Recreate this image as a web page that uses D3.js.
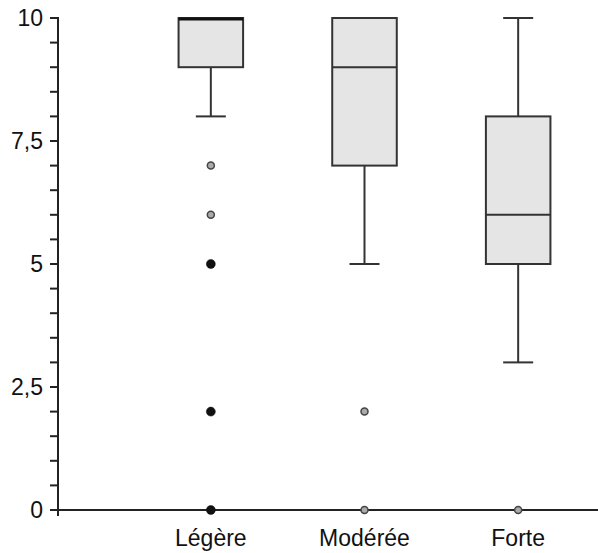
<!DOCTYPE html>
<html>
<head>
<meta charset="utf-8">
<script src="https://cdn.jsdelivr.net/npm/d3@7"></script>
<style>
  body { margin: 0; background: #fff; }
  text { font-family: "Liberation Sans", Arial, sans-serif; fill: #111; }
</style>
</head>
<body>
<div id="chart"></div>
<script>
var width = 598
var height = 553

// data
var categories = ["Légère", "Modérée", "Forte"]
var q1 = [9, 7, 5]
var median = [10, 9, 6]
var q3 = [10, 10, 8]
var whiskerLow = [8, 5, 3]
var whiskerHigh = [10, 10, 10]
// outliers: [category index, value, extreme?]
var outliers = [
  [0, 7, false], [0, 6, false], [0, 5, true], [0, 2, true], [0, 0, true],
  [1, 2, false], [1, 0, false],
  [2, 0, false]
]
var yTicks = [0, 2.5, 5, 7.5, 10]
var yTickLabels = ["0", "2,5", "5", "7,5", "10"]

var svg = d3.select("#chart").append("svg")
  .attr("width", width)
  .attr("height", height)

var y = d3.scaleLinear().domain([0, 10]).range([510, 18])
var x = d3.scaleBand().domain(categories).range([134, 595]).paddingInner(0.58).paddingOuter(0.29)

var axisX = 58

// minor ticks every 0.5
var minor = d3.range(0, 10.01, 0.5)
svg.append("g").selectAll("line")
  .data(minor)
  .enter().append("line")
  .attr("x1", axisX - 8).attr("x2", axisX)
  .attr("y1", function(d) { return y(d) }).attr("y2", function(d) { return y(d) })
  .attr("stroke", "#222").attr("stroke-width", 2)

svg.append("g").selectAll("text")
  .data(yTicks)
  .enter().append("text")
  .attr("x", 43)
  .attr("y", function(d) { return y(d) })
  .attr("dy", "0.36em")
  .attr("text-anchor", "end")
  .style("font-size", "23px")
  .text(function(d, i) { return yTickLabels[i] })

// axes lines
svg.append("line")
  .attr("x1", axisX).attr("x2", axisX)
  .attr("y1", y(10) - 1).attr("y2", y(0) + 6)
  .attr("stroke", "#222").attr("stroke-width", 2)
svg.append("line")
  .attr("x1", axisX - 1).attr("x2", width)
  .attr("y1", y(0)).attr("y2", y(0))
  .attr("stroke", "#222").attr("stroke-width", 2)

// category labels
svg.append("g").selectAll("text")
  .data(categories)
  .enter().append("text")
  .attr("x", function(d) { return x(d) + x.bandwidth() / 2 })
  .attr("y", 546)
  .attr("text-anchor", "middle")
  .style("font-size", "23px")
  .text(function(d) { return d })

var boxes = svg.append("g").selectAll("g")
  .data(categories)
  .enter().append("g")

var cx = function(d) { return x(d) + x.bandwidth() / 2 }
var capW = 30

// whiskers
boxes.append("line")
  .attr("x1", cx).attr("x2", cx)
  .attr("y1", function(d, i) { return y(whiskerLow[i]) })
  .attr("y2", function(d, i) { return y(q1[i]) })
  .attr("stroke", "#333").attr("stroke-width", 2)
boxes.append("line")
  .attr("x1", cx).attr("x2", cx)
  .attr("y1", function(d, i) { return y(whiskerHigh[i]) })
  .attr("y2", function(d, i) { return y(q3[i]) })
  .attr("stroke", "#333").attr("stroke-width", 2)
boxes.append("line")
  .attr("x1", function(d) { return cx(d) - capW / 2 })
  .attr("x2", function(d) { return cx(d) + capW / 2 })
  .attr("y1", function(d, i) { return y(whiskerLow[i]) })
  .attr("y2", function(d, i) { return y(whiskerLow[i]) })
  .attr("stroke", "#333").attr("stroke-width", 2)
boxes.append("line")
  .attr("x1", function(d) { return cx(d) - capW / 2 })
  .attr("x2", function(d) { return cx(d) + capW / 2 })
  .attr("y1", function(d, i) { return y(whiskerHigh[i]) })
  .attr("y2", function(d, i) { return y(whiskerHigh[i]) })
  .attr("stroke", "#333").attr("stroke-width", 2)

// box
boxes.append("rect")
  .attr("x", function(d) { return x(d) })
  .attr("width", x.bandwidth())
  .attr("y", function(d, i) { return y(q3[i]) })
  .attr("height", function(d, i) { return y(q1[i]) - y(q3[i]) })
  .attr("fill", "#e5e5e5")
  .attr("stroke", "#333").attr("stroke-width", 2)

// median
boxes.append("line")
  .attr("x1", function(d) { return x(d) })
  .attr("x2", function(d) { return x(d) + x.bandwidth() })
  .attr("y1", function(d, i) { return y(median[i]) + (median[i] == q3[i] ? 1 : 0) })
  .attr("y2", function(d, i) { return y(median[i]) + (median[i] == q3[i] ? 1 : 0) })
  .attr("stroke", function(d, i) { return median[i] == q3[i] ? "#111" : "#333" })
  .attr("stroke-width", function(d, i) { return median[i] == q3[i] ? 3 : 2 })

// outliers
svg.append("g").selectAll("circle")
  .data(outliers)
  .enter().append("circle")
  .attr("cx", function(d) { return cx(categories[d[0]]) })
  .attr("cy", function(d) { return y(d[1]) })
  .attr("r", function(d) { return d[2] ? 4.5 : 3.5 })
  .attr("fill", function(d) { return d[2] ? "#111" : "#aaa" })
  .attr("stroke", function(d) { return d[2] ? "#111" : "#444" })
  .attr("stroke-width", function(d) { return d[2] ? 0.5 : 1.5 })
</script>
</body>
</html>
